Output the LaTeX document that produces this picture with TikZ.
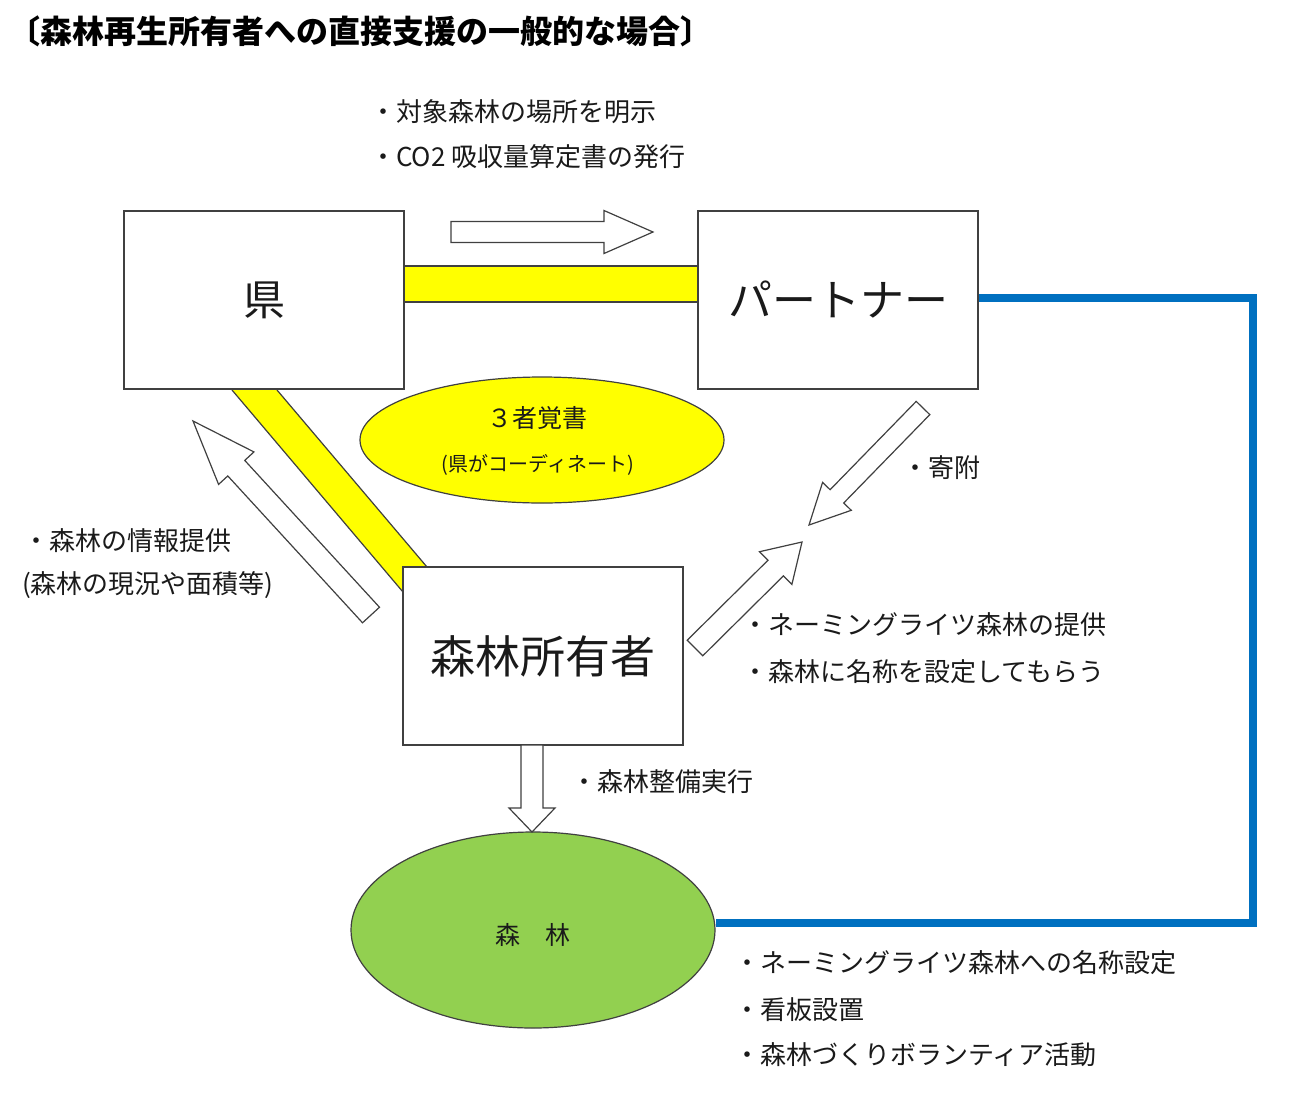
\documentclass[tikz,border=0pt]{standalone}
\usepackage{fontspec}
\usetikzlibrary{calc,shapes.geometric}
\newfontfamily\jp{Noto Sans CJK JP}
\definecolor{txt}{HTML}{1A1A1A}
\definecolor{ln}{HTML}{404040}
\definecolor{yel}{HTML}{FFFF00}
\definecolor{grn}{HTML}{92D050}
\definecolor{blu}{HTML}{0070C0}
\tikzset{
  lbl/.style={anchor=west, inner sep=0pt, text=txt, font=\jp\fontsize{26}{30}\selectfont},
  box/.style={draw=ln, line width=1.5pt, fill=white, minimum width=280pt, minimum height=178pt, inner sep=0pt, text=txt},
  barrow/.style={draw=ln, line width=1.2pt, fill=white, line join=miter},
  band/.style={fill=yel, draw=none},
  bandline/.style={draw=ln, line width=1.2pt},
}
% #1 tail, #2 tip, #3 shaft half width, #4 head half width, #5 head length
\newcommand\blockarr[5]{%
  \coordinate (#2-hb) at ($(#2)!#5!(#1)$);
  \draw[barrow] ($(#1)!#3!90:(#2)$) -- ($(#2-hb)!#3!-90:(#1)$) -- ($(#2-hb)!#4!-90:(#1)$) -- (#2)
     -- ($(#2-hb)!#4!90:(#1)$) -- ($(#2-hb)!#3!90:(#1)$) -- ($(#1)!#3!-90:(#2)$) -- cycle;
}
\begin{document}
\begin{tikzpicture}[x=1pt,y=-1pt]
\path[use as bounding box, fill=white] (0,0) rectangle (1294,1093);

% title
\node[anchor=west, inner sep=0pt, text=black, font=\jp\bfseries\fontsize{32}{36}\selectfont] (title) at (8,31) {〔森林再生所有者への直接支援の一般的な場合〕};

% boxes
\node[box, font=\jp\fontsize{42}{48}\selectfont] (ken) at (264,300) {県};
\node[box, font=\jp\fontsize{44}{50}\selectfont] (partner) at (838,300) {パートナー};
\node[box, font=\jp\fontsize{45}{50}\selectfont] (owner) at (543,656) {森林所有者};

% yellow band between ken and partner
\fill[band] (ken.east |- 0,266) rectangle (partner.west |- 0,302);
\draw[bandline] (ken.east |- 0,266) -- (partner.west |- 0,266);
\draw[bandline] (ken.east |- 0,302) -- (partner.west |- 0,302);

% diagonal yellow band between ken and owner
\coordinate (d1) at (232,390);
\coordinate (d2) at (277,390);
\coordinate (d3) at (427,567);
\coordinate (d4) at (403,592);
\fill[band] (d1) -- (d2) -- (d3) -- (owner.north west) -- (d4) -- cycle;
\draw[bandline] (d1) -- (d4);
\draw[bandline] (d2) -- (d3);
\draw[ln, line width=1.5pt] (owner.north west) -- (owner.south west);
\draw[ln, line width=1.5pt] (owner.north west) -- (owner.north east);

% memo ellipse
\node[ellipse, draw=ln, line width=1.2pt, fill=yel, minimum width=364pt, minimum height=126pt] (memo) at (542,440) {};
\node[inner sep=0pt, text=txt, font=\jp\fontsize{25}{30}\selectfont] (memo1) at (537,418) {３者覚書};
\node[inner sep=0pt, text=txt, font=\jp\fontsize{20}{24}\selectfont] (memo2) at (538,465) {(県がコーディネート)};

% forest ellipse
\node[ellipse, draw=ln, line width=1.2pt, fill=grn, minimum width=364pt, minimum height=196pt] (forest) at (533,930) {};
\node[inner sep=0pt, text=txt, font=\jp\fontsize{25}{30}\selectfont] (forestlbl) at (533,935) {森　林};

% blue line
\coordinate (bc1) at (1253,298);
\coordinate (bc2) at (1253,923);
\draw[blu, line width=8pt, line join=miter] (partner.east |- bc1) -- (bc1) -- (bc2) -- (forest.east |- bc2);

% block arrows
\coordinate (a1t) at (451,232); \coordinate (a1h) at (653,232);
\blockarr{a1t}{a1h}{10.5pt}{21.5pt}{49pt}
\coordinate (a2t) at (371,615); \coordinate (a2h) at (193,421);
\blockarr{a2t}{a2h}{11.5pt}{24pt}{64pt}
\coordinate (a3t) at (923,408); \coordinate (a3h) at (809,525);
\blockarr{a3t}{a3h}{9.5pt}{20pt}{40pt}
\coordinate (a4t) at (695,648); \coordinate (a4h) at (802,542);
\blockarr{a4t}{a4h}{11pt}{23pt}{37pt}
\coordinate (a5h) at (532,832);
\coordinate (a5t) at (532,745);
\blockarr{a5t}{a5h}{11pt}{23pt}{24pt}

% labels
\node[lbl] (t1) at (370,112) {・対象森林の場所を明示};
\node[lbl] (t2) at (370,157) {・CO2 吸収量算定書の発行};
\node[lbl] (l1) at (23,541) {・森林の情報提供};
\node[lbl] (l2) at (22,585) {(森林の現況や面積等)};
\node[lbl] (k1) at (902,468) {・寄附};
\node[lbl] (n1) at (742,625) {・ネーミングライツ森林の提供};
\node[lbl] (n2) at (742,672) {・森林に名称を設定してもらう};
\node[lbl] (s1) at (571,782) {・森林整備実行};
\node[lbl] (b1) at (734,963) {・ネーミングライツ森林への名称設定};
\node[lbl] (b2) at (734,1010) {・看板設置};
\node[lbl] (b3) at (734,1055) {・森林づくりボランティア活動};
\end{tikzpicture}
\end{document}
